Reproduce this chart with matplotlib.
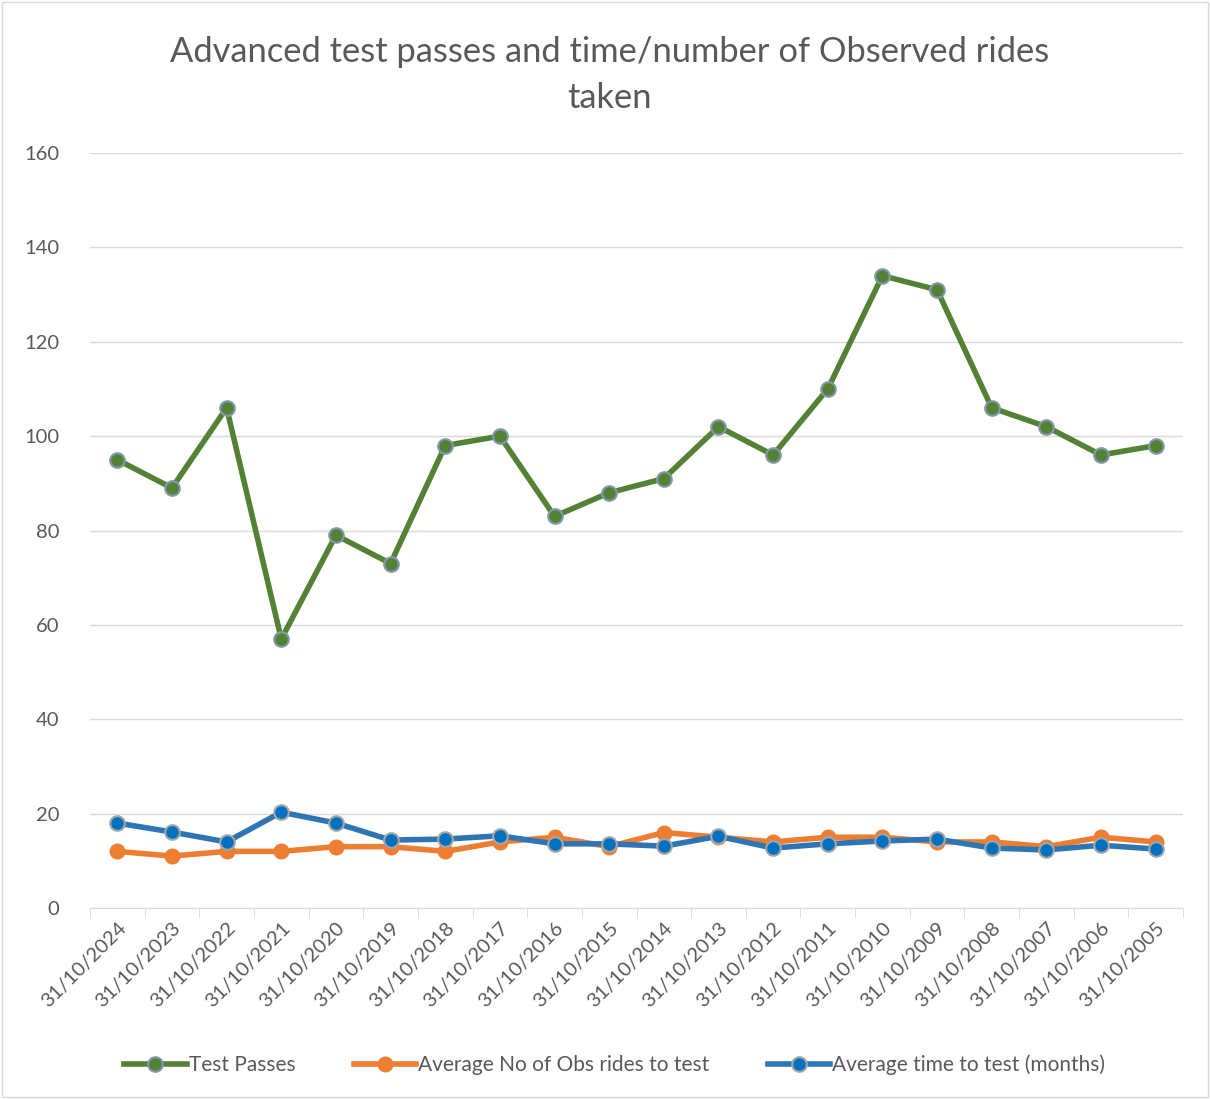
import matplotlib.pyplot as plt
import numpy as np

plt.rcParams['font.family'] = ['Lato', 'DejaVu Sans']

dates = ["31/10/2024", "31/10/2023", "31/10/2022", "31/10/2021", "31/10/2020",
         "31/10/2019", "31/10/2018", "31/10/2017", "31/10/2016", "31/10/2015",
         "31/10/2014", "31/10/2013", "31/10/2012", "31/10/2011", "31/10/2010",
         "31/10/2009", "31/10/2008", "31/10/2007", "31/10/2006", "31/10/2005"]

test_passes = [95, 89, 106, 57, 79, 73, 98, 100, 83, 88,
               91, 102, 96, 110, 134, 131, 106, 102, 96, 98]

avg_obs_rides = [12, 11, 12, 12, 13, 13, 12, 14, 15, 13,
                 16, 15, 14, 15, 15, 14, 14, 13, 15, 14]

avg_time = [18.0, 16.1, 14.0, 20.3, 18.0, 14.4, 14.6, 15.3, 13.6, 13.6,
            13.1, 15.2, 12.7, 13.6, 14.2, 14.6, 12.7, 12.3, 13.3, 12.5]

grey = "#595959"
x = np.arange(len(dates))

fig = plt.figure(figsize=(12.1, 10.99), dpi=100)
ax = fig.add_axes([90 / 1210, 1 - 908 / 1099, (1183 - 90) / 1210, (908 - 153) / 1099])

ax.plot(x, test_passes, color="#548235", lw=4, marker="o", ms=10.5,
        mfc="#548235", mec="#8497B0", mew=1.5, label="Test Passes", zorder=3)
ax.plot(x, avg_obs_rides, color="#ED7D31", lw=4, marker="o", ms=10.5,
        mfc="#ED7D31", mec="#ED7D31", label="Average No of Obs rides to test", zorder=3)
ax.plot(x, avg_time, color="#2E75B6", lw=4, marker="o", ms=10.5,
        mfc="#0070C0", mec="#A5A5A5", mew=1.5, label="Average time to test (months)", zorder=4)

ax.set_xlim(-0.5, len(dates) - 0.5)
ax.set_ylim(0, 160)
ax.set_yticks(range(0, 161, 20))
ax.grid(axis="y", color="#D9D9D9", lw=1)
ax.set_axisbelow(True)
for s in ["top", "right", "left"]:
    ax.spines[s].set_visible(False)
ax.spines["bottom"].set_color("#D9D9D9")

ax.set_xticks(x)
ax.set_xticklabels(dates, rotation=45, ha="right", rotation_mode="anchor",
                   fontsize=14.5, color=grey)
ax.set_xticks(np.arange(-0.5, len(dates), 1), minor=True)
ax.tick_params(axis="x", which="major", length=0, pad=8)
ax.tick_params(axis="x", which="minor", length=7, color="#D9D9D9")
ax.tick_params(axis="y", length=0, labelsize=14.5, labelcolor=grey, pad=22)

fig.text(0.504, 1 - 52 / 1099, "Advanced test passes and time/number of Observed rides",
         ha="center", va="center", fontsize=24.8, color=grey)
fig.text(0.504, 1 - 98 / 1099, "taken", ha="center", va="center", fontsize=24.8, color=grey)

fig.legend(loc="center", bbox_to_anchor=(0.508, 1 - 1065 / 1099), ncol=3,
           frameon=False, fontsize=15, labelcolor=grey, handlelength=3,
           handletextpad=0.1, columnspacing=2.8)

fig.patches.append(plt.Rectangle((0.002, 0.002), 0.996, 0.996, transform=fig.transFigure,
                                 fill=False, edgecolor="#D9D9D9", lw=1))

fig.savefig("out.png", dpi=100)
